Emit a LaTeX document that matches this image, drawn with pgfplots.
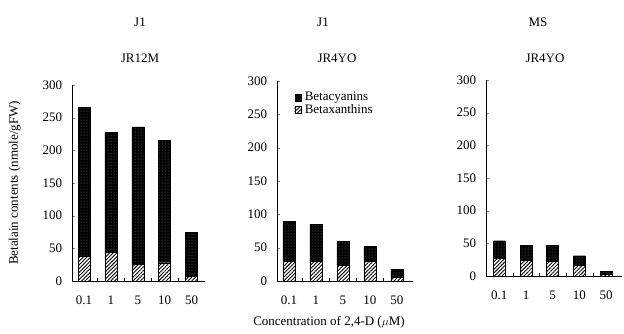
\documentclass[11pt,border=0pt]{standalone}
\usepackage{pgfplots}
\pgfplotsset{compat=1.18}
\usepackage{fontspec}
\setmainfont{Liberation Serif}
\usetikzlibrary{patterns,patterns.meta}
\newcommand\fs{\fontsize{13}{15}\selectfont}
\pgfplotsset{
  panel/.style={
    scale only axis,
    anchor=south west,
    ybar stacked,
    bar width=12pt,
    axis lines*=left,
    ymin=0, ymax=300,
    ytick={0,50,...,300},
    xtick={0,1,2,3,4},
    xticklabels={0.1,1,5,10,50},
    major x tick style={draw=none},
    minor xtick={0.5,1.5,2.5,3.5},
    minor x tick style={black},
    minor tick length=3pt,
    major tick length=3pt,
    tick align=inside,
    xticklabel style={yshift=-11pt},
    yticklabel style={xshift=-6pt},
    /pgf/number format/assume math mode=true,
    tick label style={font=\fs},
    axis line style={black, line width=0.8pt},
    legend image code/.code={\draw[#1,draw=black] (0cm,-0.12cm) rectangle (0.24cm,0.12cm);},
  },
  bx/.style={draw=black, fill=white, pattern={Lines[angle=45,distance=2.6pt,line width=0.9pt]}, pattern color=black},
  bc/.style={draw=black, fill=black, postaction={pattern=dots, pattern color=black!45}},
}
\begin{document}
\begin{tikzpicture}[x=1pt,y=1pt]
\path[use as bounding box] (0,0) rectangle (624,333);
% Panel 1
\begin{axis}[panel, at={(72pt,52pt)}, width=133pt, height=196pt, xmin=-0.45, xmax=4.5,
  ylabel={Betalain contents (nmole/gFW)},
  ylabel style={at={(axis description cs:-0.43,0.5)}, anchor=center, font=\fs}]
\addplot[bx] coordinates {(0,38) (1,44) (2,26) (3,28) (4,8)};
\addplot[bc] coordinates {(0,228) (1,183) (2,210) (3,187) (4,67)};
\end{axis}
% Panel 2
\begin{axis}[panel, at={(277pt,52pt)}, width=136pt, height=200pt, xmin=-0.44, xmax=4.6,
  reverse legend,
  legend style={at={(axis description cs:0.12,0.96)}, anchor=north west, draw=none, fill=none,
    font=\fs, row sep=-2pt, inner sep=1pt, /tikz/every odd column/.append style={column sep=1pt}},
  legend cell align=left]
\addplot[bx] coordinates {(0,30) (1,30) (2,24) (3,30) (4,5)};
\addplot[bc] coordinates {(0,60) (1,55) (2,36) (3,22) (4,13)};
\legend{Betaxanthins,Betacyanins}
\end{axis}
% Panel 3
\begin{axis}[panel, at={(486pt,57pt)}, width=136pt, height=196pt, xmin=-0.5, xmax=4.6]
\addplot[bx] coordinates {(0,27) (1,24) (2,22) (3,17) (4,2)};
\addplot[bc] coordinates {(0,27) (1,23) (2,25) (3,14) (4,5)};
\end{axis}
\node[font=\fs] at (140,311) {J1};
\node[font=\fs] at (140,275) {JR12M};
\node[font=\fs] at (323,311) {J1};
\node[font=\fs] at (337,275) {JR4YO};
\node[font=\fs] at (538,311) {MS};
\node[font=\fs] at (545,275) {JR4YO};
\node[font=\fs] at (329,11) {Concentration of 2,4-D ($\mu$M)};
\end{tikzpicture}
\end{document}
